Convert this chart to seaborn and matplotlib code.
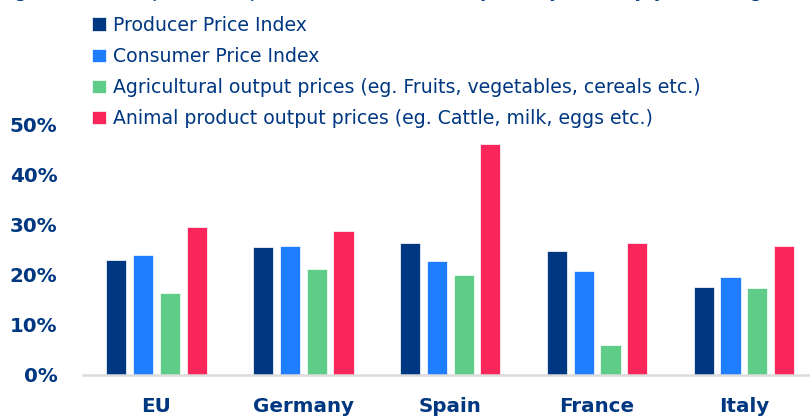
import matplotlib
matplotlib.use("Agg")
import matplotlib.pyplot as plt
import pandas as pd
import seaborn as sns

# values (y/y % change)
countries = ["EU", "Germany", "Spain", "France", "Italy"]
series_names = [
    "Producer Price Index",
    "Consumer Price Index",
    "Agricultural output prices (eg. Fruits, vegetables, cereals etc.)",
    "Animal product output prices (eg. Cattle, milk, eggs etc.)",
]
ppi = [23.0, 25.6, 26.3, 24.7, 17.5]
cpi = [24.0, 25.7, 22.7, 20.8, 19.6]
agri = [16.3, 21.1, 20.0, 5.9, 17.4]
animal = [29.6, 28.8, 46.1, 26.3, 25.8]
y_ticks = [0, 10, 20, 30, 40, 50]
title = "Figure 1: Food products price indicators (as of January 2023, y/y % change)"

colors = ["#003781", "#1F7DFF", "#5FCC87", "#F8265A"]
text_color = "#003781"

sns.set_theme(style="white")
plt.rcParams["font.family"] = ["DejaVu Sans"]

rows = []
for name, vals in zip(series_names, [ppi, cpi, agri, animal]):
    for c, v in zip(countries, vals):
        rows.append({"country": c, "series": name, "value": v})
df = pd.DataFrame(rows)

fig = plt.figure(figsize=(8.10, 4.19), dpi=100)
ax = fig.add_axes([0.1025, 0.1062, 0.8975, 0.5955])

sns.barplot(
    data=df, x="country", y="value", hue="series",
    order=countries, hue_order=series_names,
    palette=colors, saturation=1, width=0.73, gap=0.25, ax=ax,
    edgecolor="white", linewidth=0.5,
)

ax.set_xlim(-0.5, 4.45)
ax.set_ylim(0, 50)
ax.set_yticks(y_ticks)
ax.set_yticklabels([f"{t}%" for t in y_ticks])
ax.set_xlabel("")
ax.set_ylabel("")
for side in ["top", "right", "left"]:
    ax.spines[side].set_visible(False)
ax.spines["bottom"].set_color("#DCDCDC")
ax.spines["bottom"].set_linewidth(1.8)
ax.tick_params(axis="y", length=0, pad=18.5, labelsize=14.3, labelcolor=text_color)
ax.tick_params(axis="x", length=0, pad=16.5, labelsize=14.3, labelcolor=text_color)
for lab in ax.get_xticklabels() + ax.get_yticklabels():
    lab.set_fontweight("bold")

handles, labels = ax.get_legend_handles_labels()
ax.legend_.remove()
fig.legend(
    handles, labels, loc="upper left", bbox_to_anchor=(0.113, 0.962),
    frameon=False, fontsize=13.6, labelcolor=text_color,
    handlelength=0.74, handleheight=0.74, handletextpad=0.4,
    labelspacing=0.64, borderaxespad=0, borderpad=0,
)

fig.text(-0.003, 1.006, title, fontsize=15, color=text_color, ha="left", va="baseline")

fig.savefig("out.png", dpi=100)
